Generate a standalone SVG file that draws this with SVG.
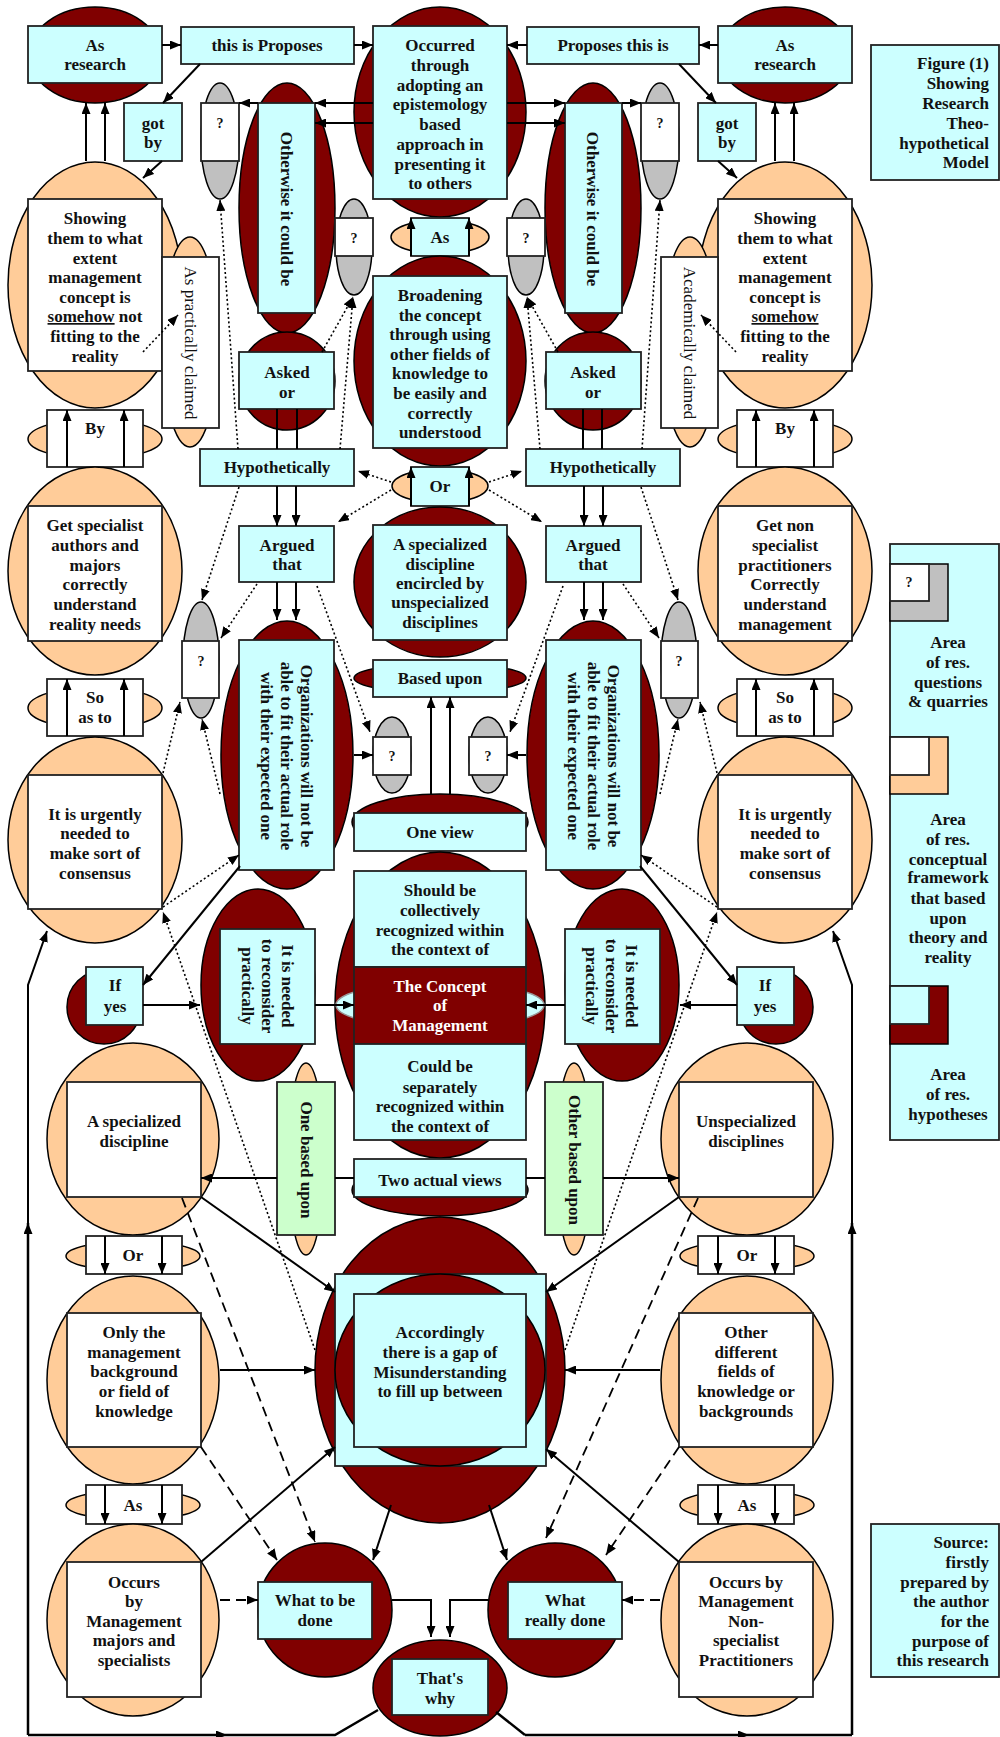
<svg xmlns="http://www.w3.org/2000/svg" width="1000" height="1737" viewBox="0 0 1000 1737">
<defs>
<marker id="ah" viewBox="0 0 11 9" refX="11" refY="4.5" markerWidth="11" markerHeight="9" markerUnits="userSpaceOnUse" orient="auto"><path d="M0,0 L11,4.5 L0,9 z" fill="#000"/></marker>
<style>
.dr{fill:#800000;stroke:#000;stroke-width:1.5}
.pe{fill:#FFCC99;stroke:#000;stroke-width:1.5}
.gr{fill:#C0C0C0;stroke:#000;stroke-width:1.5}
.cy{fill:#CCFFFF;stroke:#222;stroke-width:1.8}
.wh{fill:#FFFFFF;stroke:#222;stroke-width:1.8}
.gn{fill:#CCFFCC;stroke:#222;stroke-width:1.8}
.lens{fill:#CCFFFF;stroke:#999;stroke-width:1.5}
text{font-family:"Liberation Serif","Times New Roman",serif;font-size:17px;font-weight:bold;fill:#111;text-anchor:middle}
.nr{font-weight:normal}
.q{font-size:14px}
.wt{fill:#fff}
.rt{text-anchor:end}
.ln{fill:none;stroke:#000;stroke-width:2}
.a{marker-end:url(#ah)}
.dt{fill:none;stroke:#000;stroke-width:1.6;stroke-dasharray:2 2.5}
.ds{fill:none;stroke:#000;stroke-width:1.8;stroke-dasharray:10 6}
.bl{fill:none;stroke:#000;stroke-width:2.5}
</style>
</defs>
<rect width="1000" height="1737" fill="#fff"/>

<!-- top row -->
<g id="as-research-l"><ellipse class="dr" cx="95" cy="55" rx="66" ry="48"/><rect class="cy" x="28" y="26" width="134" height="57"/><text x="95" y="51">As</text><text x="95" y="70">research</text></g>
<g id="this-is-proposes"><rect class="cy" x="181" y="27" width="173" height="37"/><text x="267" y="51">this is Proposes</text></g>
<g id="occurred"><ellipse class="dr" cx="440" cy="112" rx="86" ry="105"/><rect class="cy" x="373" y="26" width="134" height="173"/>
<text><tspan x="440" y="51">Occurred</tspan><tspan x="440" y="71">through</tspan><tspan x="440" y="91">adopting an</tspan><tspan x="440" y="110">epistemology</tspan><tspan x="440" y="130">based</tspan><tspan x="440" y="150">approach in</tspan><tspan x="440" y="170">presenting it</tspan><tspan x="440" y="189">to others</tspan></text></g>
<g id="proposes-this-is"><rect class="cy" x="527" y="27" width="172" height="37"/><text x="613" y="51">Proposes this is</text></g>
<g id="as-research-r"><ellipse class="dr" cx="785" cy="55" rx="66" ry="48"/><rect class="cy" x="718" y="26" width="134" height="57"/><text x="785" y="51">As</text><text x="785" y="70">research</text></g>
<g id="figure-title"><rect class="cy" x="871" y="45" width="128" height="135"/>
<text class="rt"><tspan x="989" y="69">Figure (1)</tspan><tspan x="989" y="89">Showing</tspan><tspan x="989" y="109">Research</tspan><tspan x="989" y="129">Theo-</tspan><tspan x="989" y="149">hypothetical</tspan><tspan x="989" y="168">Model</tspan></text></g>

<g id="got-by-l"><rect class="cy" x="124" y="103" width="58" height="58"/><text x="153" y="129">got</text><text x="153" y="148">by</text></g>
<g id="got-by-r"><rect class="cy" x="698" y="103" width="58" height="58"/><text x="727" y="129">got</text><text x="727" y="148">by</text></g>

<g id="q-top-l"><ellipse class="gr" cx="220" cy="141" rx="19" ry="58"/><rect class="wh" x="201" y="103" width="38" height="58"/><text class="q" x="220" y="128">?</text></g>
<g id="q-top-r"><ellipse class="gr" cx="660" cy="141" rx="19" ry="58"/><rect class="wh" x="641" y="103" width="38" height="58"/><text class="q" x="660" y="128">?</text></g>

<g id="otherwise-l"><ellipse class="dr" cx="287" cy="208" rx="48" ry="125"/><rect class="cy" x="258" y="103" width="57" height="210"/><text transform="translate(287,209) rotate(90)" x="0" y="6">Otherwise it could be</text></g>
<g id="otherwise-r"><ellipse class="dr" cx="593" cy="208" rx="48" ry="125"/><rect class="cy" x="565" y="103" width="57" height="210"/><text transform="translate(593,209) rotate(90)" x="0" y="6">Otherwise it could be</text></g>

<g id="q-small-l"><ellipse class="gr" cx="354" cy="247" rx="18" ry="48"/><rect class="wh" x="335" y="218" width="38" height="38"/><text class="q" x="354" y="243">?</text></g>
<g id="q-small-r"><ellipse class="gr" cx="526" cy="247" rx="18" ry="48"/><rect class="wh" x="507" y="218" width="38" height="38"/><text class="q" x="526" y="243">?</text></g>

<g id="as-center"><ellipse class="pe" cx="440" cy="237" rx="49" ry="17"/><rect class="cy" x="411" y="218" width="58" height="38"/><text x="440" y="243">As</text></g>

<g id="broadening"><ellipse class="dr" cx="440" cy="361" rx="86" ry="105"/><rect class="cy" x="373" y="276" width="134" height="172"/>
<text><tspan x="440" y="301">Broadening</tspan><tspan x="440" y="321">the concept</tspan><tspan x="440" y="340">through using</tspan><tspan x="440" y="360">other fields of</tspan><tspan x="440" y="379">knowledge to</tspan><tspan x="440" y="399">be easily and</tspan><tspan x="440" y="419">correctly</tspan><tspan x="440" y="438">understood</tspan></text></g>

<g id="showing-l"><ellipse class="pe" cx="95" cy="285" rx="87" ry="123"/><rect class="wh" x="28" y="199" width="134" height="172"/>
<text><tspan x="95" y="224">Showing</tspan><tspan x="95" y="244">them to what</tspan><tspan x="95" y="264">extent</tspan><tspan x="95" y="283">management</tspan><tspan x="95" y="303">concept is</tspan><tspan x="95" y="322"><tspan text-decoration="underline">somehow</tspan> not</tspan><tspan x="95" y="342">fitting to the</tspan><tspan x="95" y="362">reality</tspan></text></g>
<g id="showing-r"><ellipse class="pe" cx="785" cy="285" rx="87" ry="123"/><rect class="wh" x="718" y="199" width="134" height="172"/>
<text><tspan x="785" y="224">Showing</tspan><tspan x="785" y="244">them to what</tspan><tspan x="785" y="264">extent</tspan><tspan x="785" y="283">management</tspan><tspan x="785" y="303">concept is</tspan><tspan x="785" y="322" text-decoration="underline">somehow</tspan><tspan x="785" y="342">fitting to the</tspan><tspan x="785" y="362">reality</tspan></text></g>

<g id="claimed-l"><ellipse class="pe" cx="190" cy="342" rx="28" ry="105"/><rect class="wh" x="162" y="257" width="57" height="171"/><text class="nr" transform="translate(191,343) rotate(90)" x="0" y="6">As practically claimed</text></g>
<g id="claimed-r"><ellipse class="pe" cx="690" cy="342" rx="28" ry="105"/><rect class="wh" x="661" y="257" width="57" height="171"/><text class="nr" transform="translate(690,343) rotate(90)" x="0" y="6">Academically claimed</text></g>

<g id="asked-l"><ellipse class="dr" cx="287" cy="381" rx="48" ry="49"/><rect class="cy" x="239" y="352" width="95" height="57"/><text x="287" y="378">Asked</text><text x="287" y="398">or</text></g>
<g id="asked-r"><ellipse class="dr" cx="593" cy="381" rx="48" ry="49"/><rect class="cy" x="546" y="352" width="95" height="57"/><text x="593" y="378">Asked</text><text x="593" y="398">or</text></g>

<g id="by-l"><ellipse class="pe" cx="95" cy="439" rx="67" ry="20"/><rect class="wh" x="47" y="410" width="96" height="57"/><text x="95" y="434">By</text></g>
<g id="by-r"><ellipse class="pe" cx="785" cy="439" rx="67" ry="20"/><rect class="wh" x="737" y="410" width="96" height="57"/><text x="785" y="434">By</text></g>

<g id="hypothetically-l"><rect class="cy" x="200" y="449" width="154" height="37"/><text x="277" y="473">Hypothetically</text></g>
<g id="hypothetically-r"><rect class="cy" x="526" y="449" width="154" height="37"/><text x="603" y="473">Hypothetically</text></g>

<g id="or-center"><ellipse class="pe" cx="440" cy="486" rx="48" ry="17"/><rect class="cy" x="411" y="467" width="58" height="39"/><text x="440" y="492">Or</text></g>

<g id="get-specialist"><ellipse class="pe" cx="95" cy="571" rx="87" ry="104"/><rect class="wh" x="28" y="506" width="134" height="135"/>
<text><tspan x="95" y="531">Get specialist</tspan><tspan x="95" y="551">authors and</tspan><tspan x="95" y="571">majors</tspan><tspan x="95" y="590">correctly</tspan><tspan x="95" y="610">understand</tspan><tspan x="95" y="630">reality needs</tspan></text></g>
<g id="get-non-specialist"><ellipse class="pe" cx="785" cy="571" rx="87" ry="104"/><rect class="wh" x="718" y="506" width="134" height="135"/>
<text><tspan x="785" y="531">Get non</tspan><tspan x="785" y="551">specialist</tspan><tspan x="785" y="571">practitioners</tspan><tspan x="785" y="590">Correctly</tspan><tspan x="785" y="610">understand</tspan><tspan x="785" y="630">management</tspan></text></g>

<g id="argued-l"><rect class="cy" x="239" y="526" width="95" height="56"/><text x="287" y="551">Argued</text><text x="287" y="570">that</text></g>
<g id="argued-r"><rect class="cy" x="546" y="526" width="95" height="56"/><text x="593" y="551">Argued</text><text x="593" y="570">that</text></g>

<g id="specialized-encircled"><ellipse class="dr" cx="440" cy="582" rx="86" ry="75"/><rect class="cy" x="373" y="525" width="134" height="115"/>
<text><tspan x="440" y="550">A specialized</tspan><tspan x="440" y="570">discipline</tspan><tspan x="440" y="589">encircled by</tspan><tspan x="440" y="608">unspecialized</tspan><tspan x="440" y="628">disciplines</tspan></text></g>

<g id="q-low-l"><ellipse class="gr" cx="201" cy="660" rx="18" ry="58"/><rect class="wh" x="182" y="641" width="37" height="57"/><text class="q" x="201" y="666">?</text></g>
<g id="q-low-r"><ellipse class="gr" cx="679" cy="660" rx="18" ry="58"/><rect class="wh" x="661" y="641" width="37" height="57"/><text class="q" x="679" y="666">?</text></g>

<g id="based-upon"><ellipse class="dr" cx="440" cy="678" rx="86" ry="15"/><rect class="cy" x="373" y="660" width="134" height="37"/><text x="440" y="684">Based upon</text></g>

<g id="so-as-to-l"><ellipse class="pe" cx="95" cy="708" rx="67" ry="21"/><rect class="wh" x="47" y="679" width="96" height="57"/><text x="95" y="703">So</text><text x="95" y="723">as to</text></g>
<g id="so-as-to-r"><ellipse class="pe" cx="785" cy="708" rx="67" ry="21"/><rect class="wh" x="737" y="679" width="96" height="57"/><text x="785" y="703">So</text><text x="785" y="723">as to</text></g>

<g id="q-center-l"><ellipse class="gr" cx="392" cy="755" rx="19" ry="38"/><rect class="wh" x="373" y="737" width="38" height="38"/><text class="q" x="392" y="761">?</text></g>
<g id="q-center-r"><ellipse class="gr" cx="488" cy="755" rx="19" ry="38"/><rect class="wh" x="469" y="737" width="38" height="38"/><text class="q" x="488" y="761">?</text></g>

<g id="organizations-l"><ellipse class="dr" cx="287" cy="755" rx="66" ry="134"/><rect class="cy" x="239" y="640" width="95" height="230"/>
<text transform="translate(287,756) rotate(90)"><tspan x="0" y="-14">Organizations will not be</tspan><tspan x="0" y="6">able to fit their actual role</tspan><tspan x="0" y="26">with their expected one</tspan></text></g>
<g id="organizations-r"><ellipse class="dr" cx="593" cy="755" rx="66" ry="134"/><rect class="cy" x="546" y="640" width="95" height="230"/>
<text transform="translate(594,756) rotate(90)"><tspan x="0" y="-14">Organizations will not be</tspan><tspan x="0" y="6">able to fit their actual role</tspan><tspan x="0" y="26">with their expected one</tspan></text></g>

<g id="urgently-l"><ellipse class="pe" cx="95" cy="840" rx="87" ry="103"/><rect class="wh" x="28" y="775" width="134" height="134"/>
<text><tspan x="95" y="820">It is urgently</tspan><tspan x="95" y="839">needed to</tspan><tspan x="95" y="859">make sort of</tspan><tspan x="95" y="879">consensus</tspan></text></g>
<g id="urgently-r"><ellipse class="pe" cx="785" cy="840" rx="87" ry="103"/><rect class="wh" x="718" y="775" width="134" height="134"/>
<text><tspan x="785" y="820">It is urgently</tspan><tspan x="785" y="839">needed to</tspan><tspan x="785" y="859">make sort of</tspan><tspan x="785" y="879">consensus</tspan></text></g>

<g id="one-view"><ellipse class="dr" cx="440" cy="822" rx="88" ry="28"/><rect class="cy" x="354" y="813" width="172" height="38"/><text x="440" y="838">One view</text></g>

<g id="legend"><rect class="cy" x="890" y="544" width="109" height="596"/>
<rect class="gr" x="890" y="564" width="58" height="57"/><rect class="wh" x="890" y="564" width="39" height="37"/><text class="q" x="909" y="587">?</text>
<text><tspan x="948" y="648">Area</tspan><tspan x="948" y="668">of res.</tspan><tspan x="948" y="688">questions</tspan><tspan x="948" y="707">&amp; quarries</tspan></text>
<rect class="pe" x="890" y="737" width="58" height="57"/><rect class="wh" x="890" y="737" width="39" height="38"/>
<text><tspan x="948" y="825">Area</tspan><tspan x="948" y="845">of res.</tspan><tspan x="948" y="865">conceptual</tspan><tspan x="948" y="883">framework</tspan><tspan x="948" y="904">that based</tspan><tspan x="948" y="924">upon</tspan><tspan x="948" y="943">theory and</tspan><tspan x="948" y="963">reality</tspan></text>
<rect class="dr" x="890" y="986" width="58" height="58"/><rect class="cy" x="890" y="986" width="39" height="38"/>
<text><tspan x="948" y="1080">Area</tspan><tspan x="948" y="1100">of res.</tspan><tspan x="948" y="1120">hypotheses</tspan></text></g>

<g id="concept"><ellipse class="dr" cx="440" cy="1005" rx="105" ry="153"/><ellipse class="lens" cx="440" cy="1005" rx="104" ry="23"/>
<rect class="cy" x="354" y="871" width="172" height="96"/><rect fill="#800000" stroke="#222" stroke-width="1.8" x="354" y="967" width="172" height="77"/><rect class="cy" x="354" y="1044" width="172" height="96"/>
<text><tspan x="440" y="896">Should be</tspan><tspan x="440" y="916">collectively</tspan><tspan x="440" y="936">recognized within</tspan><tspan x="440" y="955">the context of</tspan></text>
<text class="wt"><tspan x="440" y="992">The Concept</tspan><tspan x="440" y="1011">of</tspan><tspan x="440" y="1031">Management</tspan></text>
<text><tspan x="440" y="1072">Could be</tspan><tspan x="440" y="1093">separately</tspan><tspan x="440" y="1112">recognized within</tspan><tspan x="440" y="1132">the context of</tspan></text></g>

<g id="reconsider-l"><ellipse class="dr" cx="258" cy="985" rx="57" ry="96"/><rect class="cy" x="220" y="929" width="95" height="115"/>
<text transform="translate(268,986) rotate(90)"><tspan x="0" y="-14">It is needed</tspan><tspan x="0" y="6">to reconsider</tspan><tspan x="0" y="26">practically</tspan></text></g>
<g id="reconsider-r"><ellipse class="dr" cx="622" cy="985" rx="57" ry="96"/><rect class="cy" x="565" y="929" width="95" height="115"/>
<text transform="translate(612,986) rotate(90)"><tspan x="0" y="-14">It is needed</tspan><tspan x="0" y="6">to reconsider</tspan><tspan x="0" y="26">practically</tspan></text></g>

<g id="if-yes-l"><circle class="dr" cx="104" cy="1007" r="37"/><rect class="cy" x="86" y="967" width="57" height="58"/><text x="115" y="991">If</text><text x="115" y="1012">yes</text></g>
<g id="if-yes-r"><circle class="dr" cx="776" cy="1007" r="37"/><rect class="cy" x="737" y="967" width="57" height="58"/><text x="765" y="991">If</text><text x="765" y="1012">yes</text></g>

<g id="two-actual-views"><ellipse class="dr" cx="440" cy="1190" rx="88" ry="26"/><rect class="cy" x="354" y="1159" width="172" height="38"/><text x="440" y="1186">Two actual views</text></g>

<g id="one-based-upon"><ellipse class="pe" cx="306" cy="1159" rx="18" ry="96"/><rect class="gn" x="277" y="1082" width="58" height="153"/><text transform="translate(307,1160) rotate(90)" x="0" y="6">One based upon</text></g>
<g id="other-based-upon"><ellipse class="pe" cx="574" cy="1159" rx="18" ry="96"/><rect class="gn" x="545" y="1082" width="58" height="153"/><text transform="translate(575,1160) rotate(90)" x="0" y="6">Other based upon</text></g>

<g id="a-specialized-discipline"><ellipse class="pe" cx="133" cy="1139" rx="86" ry="96"/><rect class="wh" x="67" y="1082" width="134" height="115"/><text x="134" y="1127">A specialized</text><text x="134" y="1147">discipline</text></g>
<g id="unspecialized-disciplines"><ellipse class="pe" cx="747" cy="1139" rx="86" ry="96"/><rect class="wh" x="679" y="1082" width="134" height="115"/><text x="746" y="1127">Unspecialized</text><text x="746" y="1147">disciplines</text></g>

<g id="or-low-l"><ellipse class="pe" cx="133" cy="1256" rx="67" ry="15"/><rect class="wh" x="86" y="1236" width="96" height="38"/><text x="133" y="1261">Or</text></g>
<g id="or-low-r"><ellipse class="pe" cx="747" cy="1256" rx="67" ry="15"/><rect class="wh" x="698" y="1236" width="96" height="38"/><text x="747" y="1261">Or</text></g>

<g id="only-management"><ellipse class="pe" cx="133" cy="1380" rx="86" ry="104"/><rect class="wh" x="67" y="1313" width="134" height="134"/>
<text><tspan x="134" y="1338">Only the</tspan><tspan x="134" y="1358">management</tspan><tspan x="134" y="1377">background</tspan><tspan x="134" y="1397">or field of</tspan><tspan x="134" y="1417">knowledge</tspan></text></g>
<g id="other-fields"><ellipse class="pe" cx="747" cy="1380" rx="86" ry="104"/><rect class="wh" x="679" y="1313" width="134" height="134"/>
<text><tspan x="746" y="1338">Other</tspan><tspan x="746" y="1358">different</tspan><tspan x="746" y="1377">fields of</tspan><tspan x="746" y="1397">knowledge or</tspan><tspan x="746" y="1417">backgrounds</tspan></text></g>

<g id="as-low-l"><ellipse class="pe" cx="133" cy="1505" rx="67" ry="15"/><rect class="wh" x="86" y="1485" width="96" height="39"/><text x="133" y="1511">As</text></g>
<g id="as-low-r"><ellipse class="pe" cx="747" cy="1505" rx="67" ry="15"/><rect class="wh" x="698" y="1485" width="96" height="39"/><text x="747" y="1511">As</text></g>

<g id="occurs-majors"><ellipse class="pe" cx="133" cy="1620" rx="86" ry="96"/><rect class="wh" x="67" y="1562" width="134" height="135"/>
<text><tspan x="134" y="1588">Occurs</tspan><tspan x="134" y="1607">by</tspan><tspan x="134" y="1627">Management</tspan><tspan x="134" y="1646">majors and</tspan><tspan x="134" y="1666">specialists</tspan></text></g>
<g id="occurs-practitioners"><ellipse class="pe" cx="747" cy="1620" rx="86" ry="96"/><rect class="wh" x="679" y="1562" width="134" height="135"/>
<text><tspan x="746" y="1588">Occurs by</tspan><tspan x="746" y="1607">Management</tspan><tspan x="746" y="1627">Non-</tspan><tspan x="746" y="1646">specialist</tspan><tspan x="746" y="1666">Practitioners</tspan></text></g>

<g id="accordingly"><ellipse class="dr" cx="440" cy="1370" rx="125" ry="153"/><rect class="cy" x="335" y="1274" width="211" height="192"/><ellipse class="dr" cx="440" cy="1370" rx="105" ry="96"/><rect class="cy" x="354" y="1294" width="172" height="153"/>
<text><tspan x="440" y="1338">Accordingly</tspan><tspan x="440" y="1358">there is a gap of</tspan><tspan x="440" y="1378">Misunderstanding</tspan><tspan x="440" y="1397">to fill up between</tspan></text></g>

<g id="what-to-be-done"><circle class="dr" cx="325" cy="1610" r="67"/><rect class="cy" x="258" y="1582" width="114" height="57"/><text x="315" y="1606">What to be</text><text x="315" y="1626">done</text></g>
<g id="what-really-done"><circle class="dr" cx="555" cy="1610" r="67"/><rect class="cy" x="508" y="1582" width="114" height="57"/><text x="565" y="1606">What</text><text x="565" y="1626">really done</text></g>

<g id="thats-why"><ellipse class="dr" cx="440" cy="1688" rx="67" ry="48"/><rect class="cy" x="392" y="1659" width="96" height="56"/><text x="440" y="1684">That's</text><text x="440" y="1704">why</text></g>

<g id="source"><rect class="cy" x="871" y="1524" width="128" height="153"/>
<text class="rt"><tspan x="989" y="1548">Source:</tspan><tspan x="989" y="1568">firstly</tspan><tspan x="989" y="1588">prepared by</tspan><tspan x="989" y="1607">the author</tspan><tspan x="989" y="1627">for the</tspan><tspan x="989" y="1647">purpose of</tspan><tspan x="989" y="1666">this research</tspan></text></g>

<g id="connectors">
<path class="ln a" d="M162,45 H181"/><path class="ln a" d="M354,45 H373"/><path class="ln a" d="M718,45 H699"/><path class="ln a" d="M527,45 H507"/>
<path class="ln a" d="M200,64 L163,103"/><path class="ln a" d="M679,64 L716,103"/>
<path class="ln a" d="M162,161 L143,178"/><path class="ln a" d="M718,161 L737,178"/>
<path class="ln a" d="M86,161 V103"/><path class="ln a" d="M105,161 V103"/><path class="ln a" d="M775,161 V103"/><path class="ln a" d="M794,161 V103"/>
<path class="ln a" d="M373,103 H315"/><path class="ln a" d="M373,123 H315"/><path class="ln a" d="M258,103 H239"/>
<path class="ln a" d="M507,103 H565"/><path class="ln a" d="M507,123 H565"/><path class="ln a" d="M622,103 H641"/>
<path class="ln a" d="M411,256 V218"/><path class="ln a" d="M469,256 V218"/>
<path class="dt a" d="M143,352 L178,315"/><path class="dt a" d="M736,352 L701,315"/>
<path class="dt a" d="M238,449 L220,200"/><path class="dt a" d="M642,449 L660,200"/>
<path class="dt a" d="M322,352 L353,297"/><path class="dt a" d="M340,449 L353,297"/><path class="dt a" d="M558,352 L527,297"/><path class="dt a" d="M540,449 L527,297"/>
<path class="ln" d="M277,409 V449 M297,409 V449 M583,409 V449 M602,409 V449"/>
<path class="ln a" d="M67,467 V410"/><path class="ln a" d="M124,467 V410"/><path class="ln a" d="M756,467 V410"/><path class="ln a" d="M814,467 V410"/>
<path class="ln a" d="M411,506 V467"/><path class="ln a" d="M469,506 V467"/>
<path class="dt a" d="M391,482 L358,471"/><path class="dt a" d="M391,490 L338,522"/><path class="dt a" d="M489,482 L522,471"/><path class="dt a" d="M489,490 L542,522"/>
<path class="ln a" d="M277,486 V526"/><path class="ln a" d="M296,486 V526"/><path class="ln a" d="M584,486 V526"/><path class="ln a" d="M603,486 V526"/>
<path class="ln a" d="M277,582 V620"/><path class="ln a" d="M296,582 V620"/><path class="ln a" d="M584,582 V620"/><path class="ln a" d="M603,582 V620"/>
<path class="dt a" d="M239,487 L202,600"/><path class="dt a" d="M641,487 L678,600"/><path class="dt a" d="M257,584 L221,638"/><path class="dt a" d="M623,584 L659,638"/>
<path class="dt a" d="M317,586 L370,732"/><path class="dt a" d="M563,586 L510,732"/>
<path class="ln a" d="M354,755 H373"/><path class="ln a" d="M526,755 H507"/>
<path class="ln a" d="M431,794 V697"/><path class="ln a" d="M450,794 V697"/>
<path class="ln a" d="M67,736 V679"/><path class="ln a" d="M124,736 V679"/><path class="ln a" d="M756,736 V679"/><path class="ln a" d="M814,736 V679"/>
<path class="dt a" d="M163,773 L180,702"/><path class="dt a" d="M717,773 L700,702"/>
<path class="dt a" d="M220,794 L202,719"/><path class="dt a" d="M660,794 L678,719"/>
<path class="dt a" d="M163,907 L239,855"/><path class="dt a" d="M717,907 L641,855"/>
<path class="ln a" d="M240,866 L143,985"/><path class="ln a" d="M640,866 L737,985"/>
<path class="ln a" d="M143,1005 H200"/><path class="ln a" d="M737,1005 H680"/>
<path class="ln a" d="M315,1005 H354"/><path class="ln a" d="M565,1005 H526"/>
<path class="ln" d="M354,1178 H335"/><path class="ln a" d="M277,1178 H201"/><path class="ln" d="M526,1178 H545"/><path class="ln a" d="M603,1178 H679"/>
<path class="ln a" d="M201,1197 L335,1292"/><path class="ln a" d="M679,1197 L546,1292"/>
<path class="ln a" d="M105,1236 V1274"/><path class="ln a" d="M162,1236 V1274"/><path class="ln a" d="M718,1236 V1274"/><path class="ln a" d="M775,1236 V1274"/>
<path class="ln a" d="M220,1370 H315"/><path class="ln a" d="M660,1370 H565"/>
<path class="ln a" d="M105,1485 V1524"/><path class="ln a" d="M162,1485 V1524"/><path class="ln a" d="M718,1485 V1524"/><path class="ln a" d="M775,1485 V1524"/>
<path class="ln a" d="M201,1562 L335,1447"/><path class="ln a" d="M679,1562 L546,1449"/>
<path class="ln a" d="M391,1505 L373,1560"/><path class="ln a" d="M489,1505 L507,1560"/>
<path class="ds a" d="M182,1198 L315,1542"/><path class="ds a" d="M201,1447 L277,1560"/><path class="ds a" d="M220,1600 H258"/>
<path class="ds a" d="M698,1198 L546,1538"/><path class="ds a" d="M679,1447 L606,1555"/><path class="ds a" d="M660,1600 H622"/>
<path class="ln a" d="M392,1600 H431 V1637"/><path class="ln a" d="M488,1600 H450 V1637"/>
<path class="dt a" d="M315,1350 L163,912"/><path class="dt a" d="M565,1350 L717,912"/>
<path class="bl a" d="M28,1735 H227"/><path class="bl" d="M227,1735 H335 L378,1710"/><path class="bl a" d="M28,1735 V1223"/><path class="ln a" d="M28,1223 V985 L47,931"/>
<path class="bl" d="M496,1712 L525,1735"/><path class="bl a" d="M525,1735 H749"/><path class="bl" d="M749,1735 H852"/><path class="bl a" d="M852,1735 V1223"/><path class="ln a" d="M852,1223 V985 L833,931"/>
</g>
</svg>
